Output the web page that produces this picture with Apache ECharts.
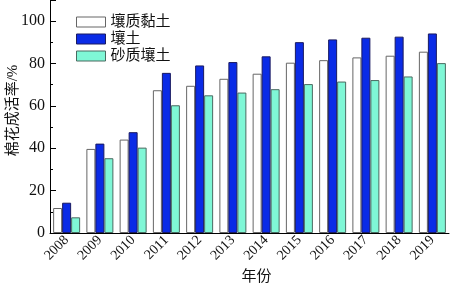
<!DOCTYPE html>
<html><head><meta charset="utf-8">
<script src="https://cdn.jsdelivr.net/npm/echarts@6/dist/echarts.min.js"></script>
<style>html,body{margin:0;padding:0;background:#fff}#c{width:450px;height:287px}</style>
</head><body><div id="c"></div>
<script>
const years = ['2008','2009','2010','2011','2012','2013','2014','2015','2016','2017','2018','2019'];
const loamyClay = [11.8, 39.7, 44.1, 67.4, 69.5, 72.8, 75.2, 80.4, 81.6, 82.9, 83.7, 85.6];
const loam = [14.3, 42.2, 47.6, 75.6, 79.1, 80.7, 83.4, 90.1, 91.4, 92.2, 92.7, 94.2];
const sandyLoam = [7.4, 35.3, 40.3, 60.3, 65.0, 66.3, 67.9, 70.3, 71.5, 72.2, 73.9, 80.2];
const seriesNames = ['壤质黏土', '壤土', '砂质壤土'];
const yTicks = [0, 20, 40, 60, 80, 100];

const serif = '"Liberation Serif", "Times New Roman", serif';
const cjk = '"Liberation Serif", "Noto Sans CJK SC", serif';
const chart = echarts.init(document.getElementById('c'));
const mk = (name, data, color, border) => ({
  name, type: 'bar', data, barWidth: 9, barGap: '0%',
  itemStyle: { color, borderColor: border, borderWidth: 1 }
});
chart.setOption({
  animation: false,
  grid: { left: 50, right: 1, top: 0, bottom: 54, containLabel: false, outerBoundsMode: 'none' },
  legend: {
    orient: 'vertical', left: 71, top: 9, itemWidth: 29, itemHeight: 10, itemGap: 1,
    textStyle: { fontFamily: cjk, fontSize: 15, color: '#111', lineHeight: 16 },
    data: seriesNames, icon: 'rect',
    itemStyle: { borderWidth: 1 }
  },
  xAxis: {
    type: 'category', data: years, boundaryGap: true,
    name: '年份', nameLocation: 'middle', nameGap: 37, nameMoveOverlap: false,
    nameTextStyle: { fontFamily: cjk, fontSize: 15, color: '#111', padding: [0, 0, 0, 14] },
    axisLine: { lineStyle: { color: '#000', width: 1 } },
    axisTick: { inside: true, length: 3, lineStyle: { color: '#000' } },
    axisLabel: { rotate: 45, fontFamily: serif, fontSize: 14, color: '#111', margin: 5, interval: 0 }
  },
  yAxis: {
    type: 'value', min: 0, max: 110, interval: 20,
    name: '棉花成活率/%', nameLocation: 'middle', nameGap: 29, nameMoveOverlap: false,
    nameTextStyle: { fontFamily: cjk, fontSize: 15, color: '#111', padding: [0, 0, 0, 12] },
    axisLine: { show: true, lineStyle: { color: '#000', width: 1 } },
    axisTick: { show: true, inside: true, length: 6, lineStyle: { color: '#000' } },
    minorTick: { show: true, splitNumber: 2, length: 3, lineStyle: { color: '#000' } },
    splitLine: { show: false },
    axisLabel: { fontFamily: serif, fontSize: 16, color: '#111', margin: 5,
      formatter: v => yTicks.includes(v) ? String(v) : '' }
  },
  series: [
    mk(seriesNames[0], loamyClay, '#ffffff', '#666666'),
    mk(seriesNames[1], loam, '#0a2be6', '#1a1a60'),
    mk(seriesNames[2], sandyLoam, '#7ff7d6', '#4a6a60')
  ]
});
</script></body></html>
